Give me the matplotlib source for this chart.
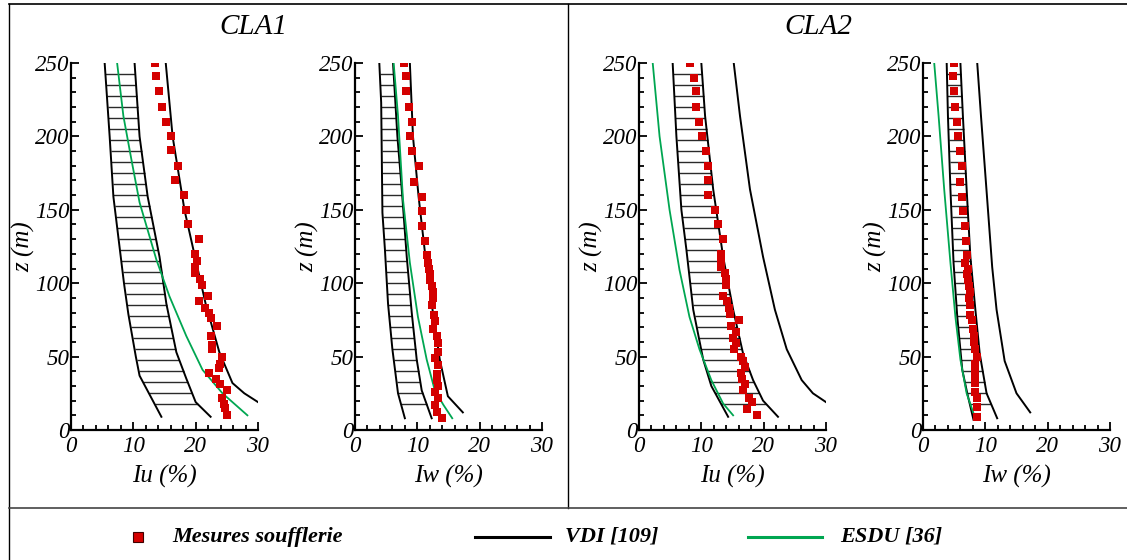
import numpy as np
import matplotlib
matplotlib.use("Agg")
import matplotlib.pyplot as plt
from matplotlib.lines import Line2D
from matplotlib.ticker import MultipleLocator

plt.rcParams['font.family'] = 'serif'
plt.rcParams['font.serif'] = ['Liberation Serif', 'DejaVu Serif']
plt.rcParams['font.style'] = 'italic'

# ---- CLA1, Iu ----
cla1_iu_lo_z = [9, 37, 50, 79, 100, 159, 200, 250]
cla1_iu_lo = [14.5, 11.0, 10.4, 9.2, 8.5, 6.8, 6.2, 5.4]
cla1_iu_mid_z = [9, 19, 35, 53, 86, 118, 159, 200, 250]
cla1_iu_mid = [22.4, 20.0, 18.5, 16.9, 15.3, 14.2, 12.3, 11.0, 10.2]
cla1_iu_hi_z = [19, 25, 32, 53, 86, 114, 150, 200, 250]
cla1_iu_hi = [30.0, 27.8, 25.9, 23.8, 21.6, 20.1, 18.2, 16.3, 15.2]
cla1_iu_esdu_z = [10, 25, 41, 64, 91, 116, 155, 184, 214, 250]
cla1_iu_esdu = [28.3, 24.3, 21.1, 18.5, 15.8, 13.7, 11.0, 9.7, 8.4, 7.4]
cla1_iu_meas_z = [250, 241, 231, 220, 210, 200, 191, 180, 170, 160, 150, 140, 130,
                  120, 115, 111, 107, 103, 99, 91, 88, 83, 80, 76, 71, 64, 58, 55,
                  50, 45, 42, 39, 35, 31, 27, 22, 18, 15, 10]
cla1_iu_meas = [13.5, 13.7, 14.1, 14.6, 15.3, 16.1, 16.1, 17.2, 16.7, 18.1, 18.5, 18.8, 20.5,
                19.9, 20.2, 19.9, 19.9, 20.7, 21.0, 21.9, 20.5, 21.5, 22.2, 22.4, 23.4, 22.4, 22.7, 22.7,
                24.2, 23.9, 23.8, 22.2, 23.2, 23.9, 25.0, 24.2, 24.5, 24.7, 25.0]

# ---- CLA1, Iw ----
cla1_iw_lo_z = [8, 25, 55, 86, 123, 148, 223, 250]
cla1_iw_lo = [8.0, 6.9, 6.0, 5.3, 4.8, 4.4, 4.2, 3.9]
cla1_iw_mid_z = [8, 27, 48, 80, 118, 164, 200, 250]
cla1_iw_mid = [12.3, 10.7, 9.9, 9.1, 8.3, 7.5, 6.8, 6.1]
cla1_iw_hi_z = [12, 23, 48, 80, 118, 159, 200, 250]
cla1_iw_hi = [17.3, 14.9, 13.6, 12.5, 11.3, 10.2, 9.3, 8.8]
cla1_iw_esdu_z = [8, 17, 27, 48, 77, 114, 157, 214, 250]
cla1_iw_esdu = [15.6, 14.2, 12.8, 11.5, 10.1, 8.8, 7.7, 6.9, 6.2]
cla1_iw_meas_z = [250, 241, 231, 220, 210, 200, 190, 180, 169, 159, 149, 139, 129,
                  119, 114, 110, 106, 102, 98, 94, 90, 85, 78, 74, 69, 64, 59, 53,
                  49, 44, 38, 34, 30, 26, 22, 17, 12, 8]
cla1_iw_meas = [7.8, 8.2, 8.2, 8.6, 9.2, 8.9, 9.2, 10.3, 9.4, 10.8, 10.8, 10.8, 11.3,
                11.6, 11.7, 11.8, 12.0, 12.1, 12.4, 12.5, 12.5, 12.4, 12.7, 12.9, 12.5, 13.1, 13.3, 13.3,
                12.8, 13.3, 13.1, 13.2, 13.3, 12.8, 13.3, 12.8, 13.2, 13.9]

# ---- CLA2, Iu ----
cla2_iu_lo_z = [9, 30, 48, 82, 123, 150, 200, 250]
cla2_iu_lo = [14.3, 11.6, 10.3, 8.7, 7.6, 6.8, 6.0, 5.4]
cla2_iu_mid_z = [9, 20, 34, 52, 82, 118, 164, 214, 250]
cla2_iu_mid = [22.3, 19.9, 18.3, 16.7, 15.1, 13.5, 11.9, 10.6, 10.0]
cla2_iu_hi_z = [19, 25, 34, 55, 82, 118, 164, 214, 250]
cla2_iu_hi = [30.0, 27.9, 26.1, 23.7, 21.8, 19.9, 17.8, 16.2, 15.2]
cla2_iu_esdu_z = [10, 18, 34, 55, 77, 109, 150, 200, 250]
cla2_iu_esdu = [15.1, 13.5, 11.6, 9.7, 8.1, 6.5, 4.9, 3.3, 2.2]
cla2_iu_meas_z = [250, 240, 231, 220, 210, 200, 190, 180, 170, 160, 150, 140, 130,
                  120, 115, 111, 107, 103, 99, 91, 88, 83, 79, 75, 71, 67, 63, 59,
                  55, 50, 47, 43, 39, 35, 31, 27, 22, 19, 14, 10]
cla2_iu_meas = [8.2, 8.8, 9.1, 9.1, 9.6, 10.1, 10.8, 11.1, 11.1, 11.1, 12.2, 12.6, 13.4,
                13.1, 13.2, 13.1, 13.8, 13.9, 13.9, 13.5, 14.1, 14.4, 14.6, 16.0, 14.7, 15.5, 15.1, 15.5,
                15.2, 16.4, 16.7, 17.0, 16.3, 16.6, 17.0, 16.7, 17.7, 18.1, 17.4, 18.9]

# ---- CLA2, Iw ----
cla2_iw_lo_z = [7, 25, 41, 77, 114, 164, 214, 250]
cla2_iw_lo = [8.1, 7.1, 6.3, 5.5, 4.9, 4.4, 4.0, 3.8]
cla2_iw_mid_z = [8, 25, 52, 82, 118, 164, 214, 250]
cla2_iw_mid = [11.9, 10.2, 9.1, 8.4, 7.6, 7.0, 6.4, 6.0]
cla2_iw_hi_z = [12, 25, 47, 82, 111, 157, 214, 250]
cla2_iw_hi = [17.2, 15.0, 13.1, 11.8, 11.1, 10.3, 9.3, 8.7]
cla2_iw_esdu_z = [9, 25, 48, 77, 114, 164, 214, 250]
cla2_iw_esdu = [8.3, 7.0, 6.0, 5.2, 4.4, 3.4, 2.5, 1.8]
cla2_iw_meas_z = [250, 241, 231, 220, 210, 200, 190, 180, 169, 159, 149, 139, 129,
                  119, 114, 110, 106, 102, 98, 94, 90, 85, 78, 75, 69, 64, 60, 55,
                  50, 45, 41, 36, 32, 26, 22, 16, 9]
cla2_iw_meas = [4.9, 4.8, 5.0, 5.1, 5.5, 5.6, 5.9, 6.2, 5.9, 6.3, 6.4, 6.7, 6.9,
                7.1, 6.8, 7.2, 7.1, 7.2, 7.3, 7.5, 7.4, 7.6, 7.5, 7.8, 8.1, 8.2, 8.2, 8.4,
                8.7, 8.3, 8.3, 8.4, 8.4, 8.4, 8.7, 8.6, 8.7]

titles = ['CLA1', 'CLA2']
xlabels = ['Iu (%)', 'Iw (%)', 'Iu (%)', 'Iw (%)']
legend_labels = ['Mesures soufflerie', 'VDI [109]', 'ESDU [36]']

panels = [
    (cla1_iu_lo_z, cla1_iu_lo, cla1_iu_mid_z, cla1_iu_mid, cla1_iu_hi_z, cla1_iu_hi,
     cla1_iu_esdu_z, cla1_iu_esdu, cla1_iu_meas_z, cla1_iu_meas),
    (cla1_iw_lo_z, cla1_iw_lo, cla1_iw_mid_z, cla1_iw_mid, cla1_iw_hi_z, cla1_iw_hi,
     cla1_iw_esdu_z, cla1_iw_esdu, cla1_iw_meas_z, cla1_iw_meas),
    (cla2_iu_lo_z, cla2_iu_lo, cla2_iu_mid_z, cla2_iu_mid, cla2_iu_hi_z, cla2_iu_hi,
     cla2_iu_esdu_z, cla2_iu_esdu, cla2_iu_meas_z, cla2_iu_meas),
    (cla2_iw_lo_z, cla2_iw_lo, cla2_iw_mid_z, cla2_iw_mid, cla2_iw_hi_z, cla2_iw_hi,
     cla2_iw_esdu_z, cla2_iw_esdu, cla2_iw_meas_z, cla2_iw_meas),
]

W, H = 1127, 560
fig = plt.figure(figsize=(W / 100, H / 100), dpi=100)

green = '#00a651'
red = '#d40000'
lefts = [71, 355, 639, 923]
hatch_levels = np.arange(17.5, 243, 7.5)

for i, p in enumerate(panels):
    lo_z, lo, mid_z, mid, hi_z, hi, es_z, es, m_z, m = p
    ax = fig.add_axes([lefts[i] / W, 1 - 430 / H, 187 / W, 367 / H])
    # hatched band between the two VDI bounds
    lv = hatch_levels[(hatch_levels >= max(lo_z[0], mid_z[0])) & (hatch_levels <= 250)]
    ax.hlines(lv, np.interp(lv, lo_z, lo), np.interp(lv, mid_z, mid),
              color='#2a2a2a', lw=1.0, zorder=1)
    ax.plot(lo, lo_z, color='black', lw=1.4, zorder=2)
    ax.plot(mid, mid_z, color='black', lw=1.4, zorder=2)
    ax.plot(hi, hi_z, color='black', lw=1.4, zorder=2)
    ax.plot(es, es_z, color=green, lw=1.3, zorder=3)
    ax.plot(m, m_z, linestyle='none', marker='s', ms=5.4, color=red,
            markeredgewidth=0, zorder=4)

    ax.set_xlim(0, 30)
    ax.set_ylim(0, 250)
    ax.spines['top'].set_visible(False)
    ax.spines['right'].set_visible(False)
    ax.spines['left'].set_linewidth(1.6)
    ax.spines['bottom'].set_linewidth(1.6)
    ax.patch.set_alpha(0)
    ax.xaxis.set_major_locator(MultipleLocator(10))
    ax.xaxis.set_minor_locator(MultipleLocator(2))
    ax.yaxis.set_major_locator(MultipleLocator(50))
    ax.yaxis.set_minor_locator(MultipleLocator(10))
    ax.tick_params(which='both', direction='in', labelsize=16.5, width=1.3)
    ax.tick_params(which='major', length=6)
    ax.tick_params(which='minor', length=3.5)
    ax.tick_params(axis='y', pad=1)
    ax.tick_params(axis='x', pad=4)
    ax.set_xlabel(xlabels[i], fontsize=18)
    ax.xaxis.set_label_coords(0.5, -0.095)
    ax.set_ylabel('z (m)', fontsize=18)
    ax.yaxis.set_label_coords(-0.19, 0.5)

fig.text(253 / W, 1 - 27 / H, titles[0], fontsize=21, ha='center', va='center')
fig.text(818 / W, 1 - 27 / H, titles[1], fontsize=21, ha='center', va='center')

# frame lines
fig.add_artist(Line2D([9 / W, 9 / W], [0, 1 - 4 / H], color='black', lw=1))
fig.add_artist(Line2D([9 / W, 1], [1 - 4 / H, 1 - 4 / H], color='black', lw=1.2))
fig.add_artist(Line2D([568 / W, 568 / W], [1 - 508 / H, 1 - 4 / H], color='black', lw=1))
fig.add_artist(Line2D([9 / W, 1], [1 - 508 / H, 1 - 508 / H], color='#444444', lw=1.2))

# legend
ly = 1 - 537 / H
fig.add_artist(Line2D([138 / W], [ly], marker='s', ms=7.5, color=red,
                      markeredgecolor='#400000', markeredgewidth=0.8, linestyle='none'))
fig.text(172 / W, ly, legend_labels[0], fontsize=16, weight='bold', ha='left', va='center')
fig.add_artist(Line2D([475 / W, 550 / W], [ly, ly], color='black', lw=2.2))
fig.text(565 / W, ly, legend_labels[1], fontsize=16, weight='bold', ha='left', va='center')
fig.add_artist(Line2D([748 / W, 822 / W], [ly, ly], color=green, lw=2.2))
fig.text(840 / W, ly, legend_labels[2], fontsize=16, weight='bold', ha='left', va='center')

fig.savefig('out.png', dpi=100)
